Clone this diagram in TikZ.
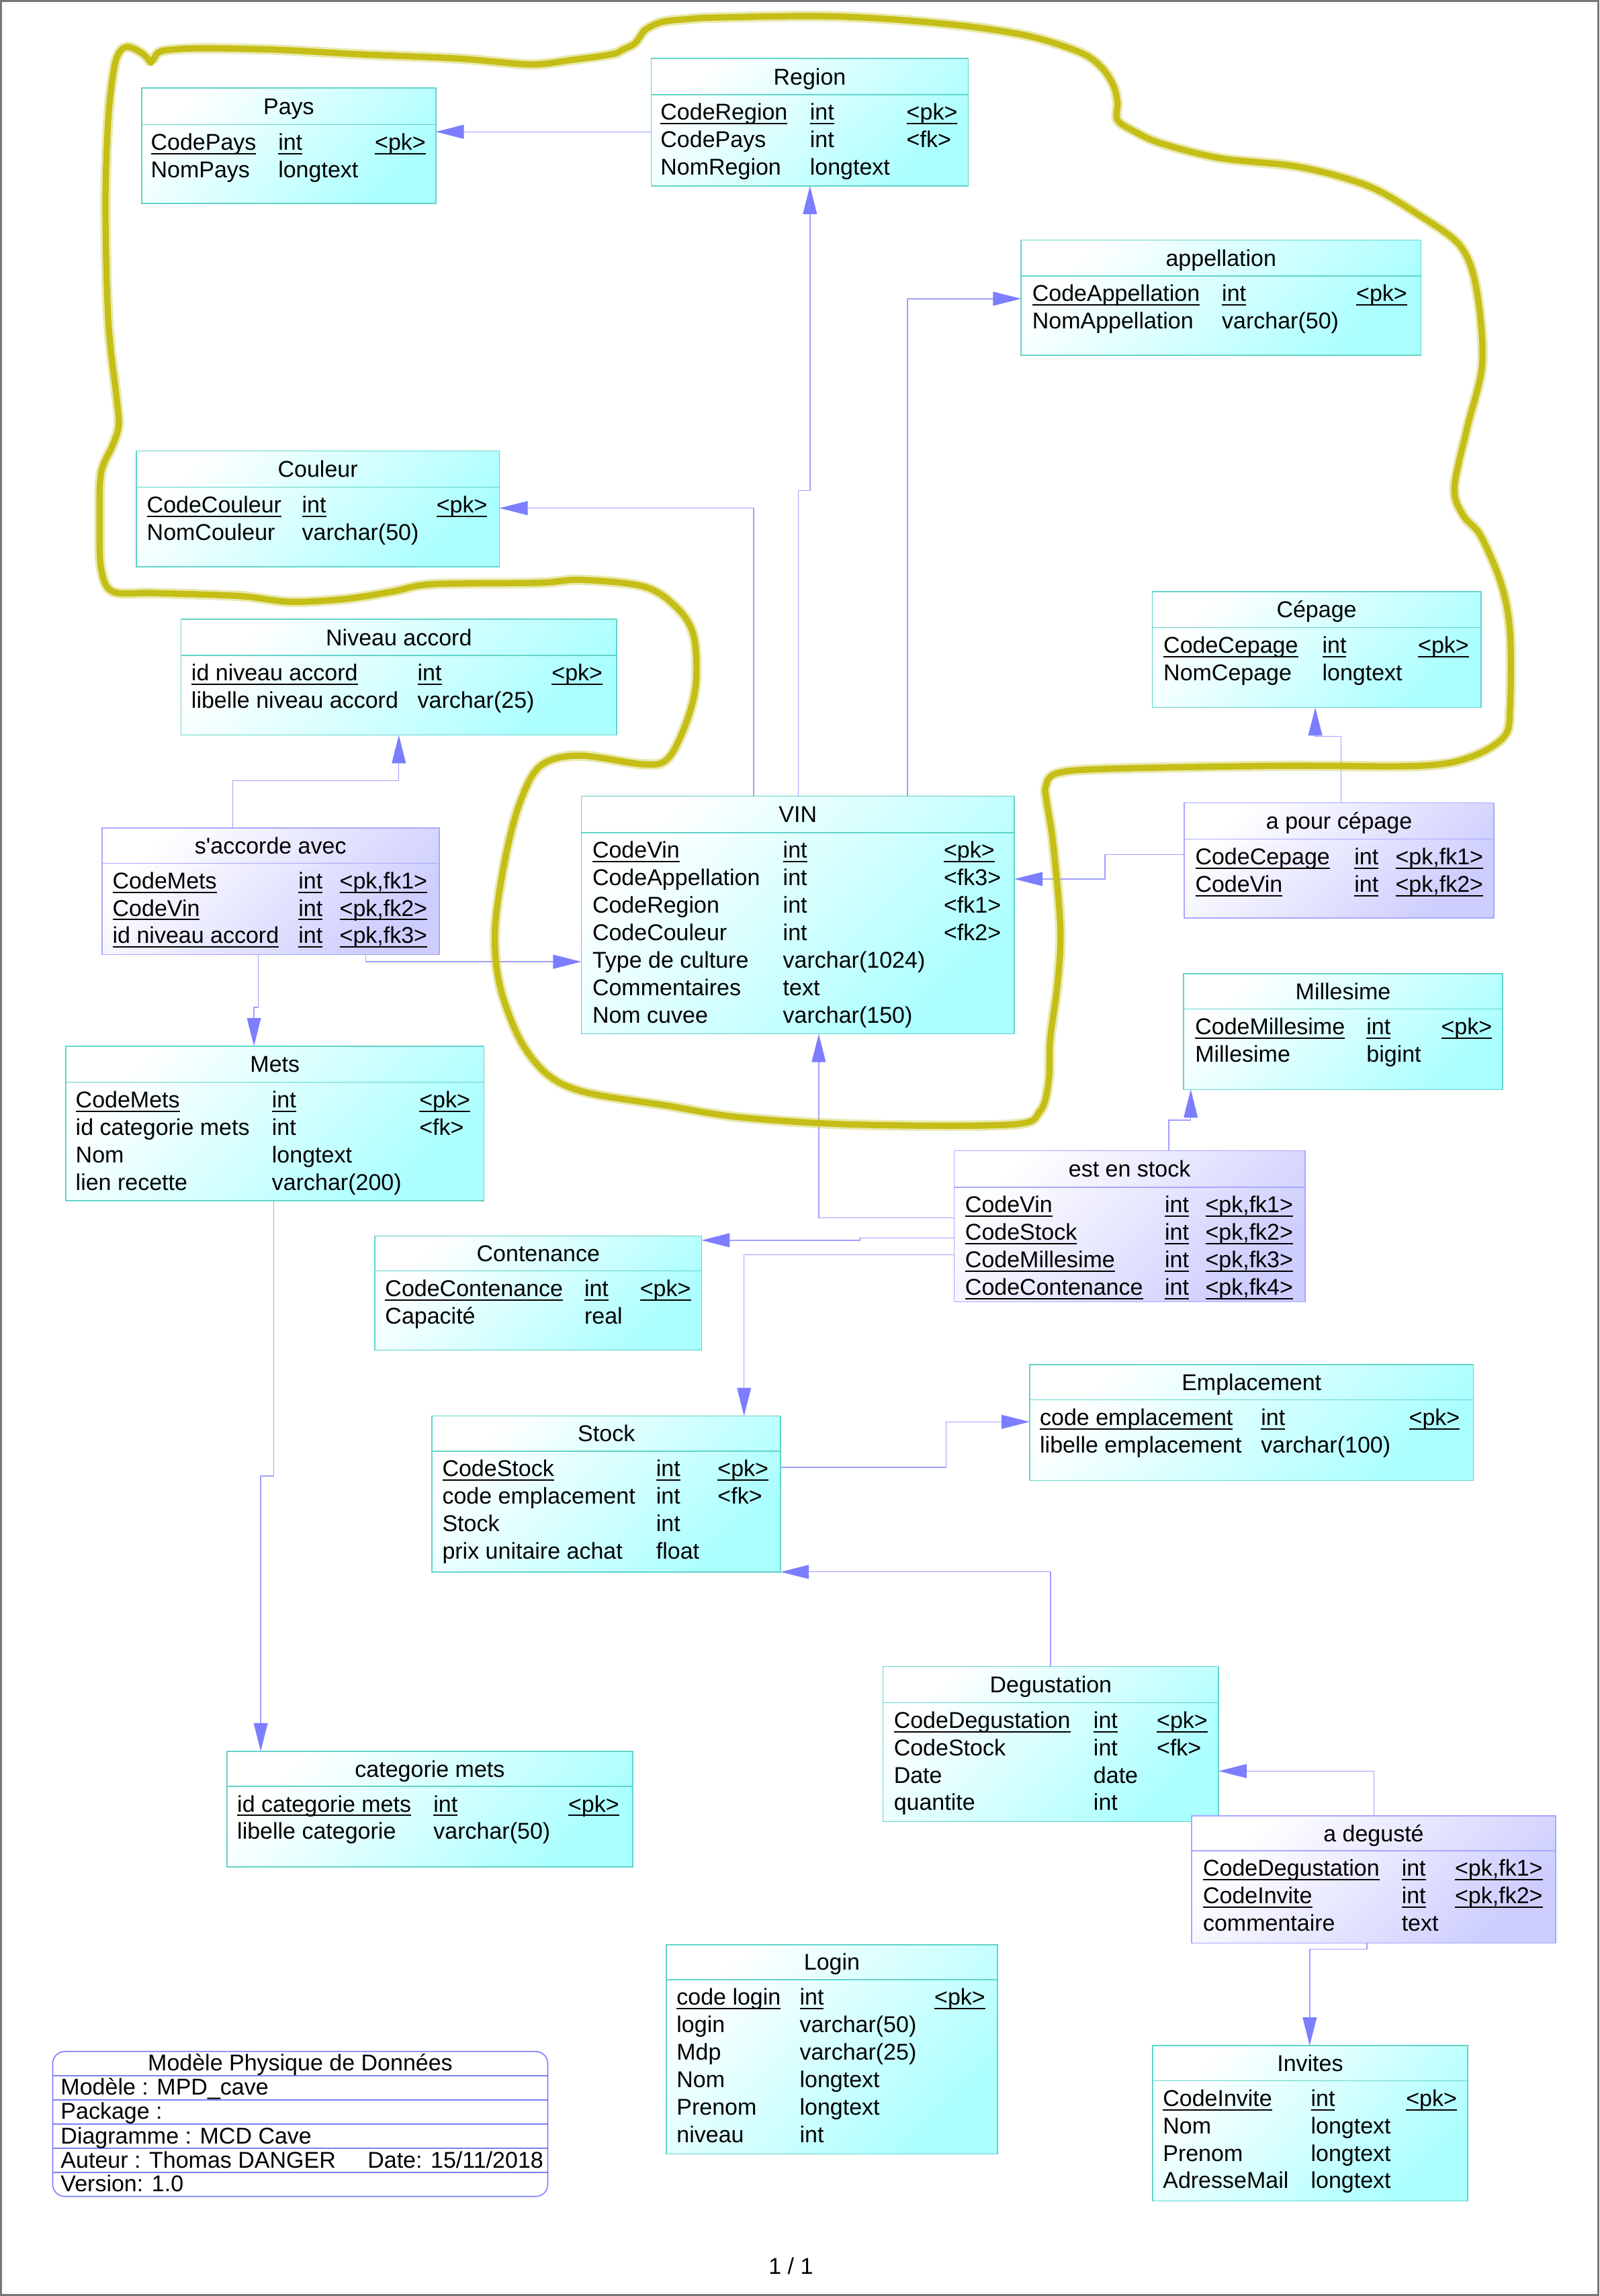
\documentclass[tikz,border=0pt]{standalone}
\usepackage{fontspec}
\setmainfont{Liberation Sans}[Ligatures=TeXOff]
\usetikzlibrary{arrows.meta,fit}

\definecolor{entb}{RGB}{98,212,202}
\definecolor{entc}{RGB}{170,255,255}
\definecolor{ascb}{RGB}{168,168,255}
\definecolor{ascc}{RGB}{205,205,255}
\definecolor{linec}{RGB}{160,160,255}
\definecolor{tipc}{RGB}{125,125,255}
\definecolor{framec}{RGB}{125,125,255}
\definecolor{penc}{RGB}{196,190,22}
\definecolor{pagec}{RGB}{120,120,120}

% underlined key field: rule at a fixed depth below the baseline
\newsavebox\keybox
\newcommand\keyfield[1]{\sbox\keybox{#1}\rlap{\rule[-1.6pt]{\wd\keybox}{0.5pt}}\usebox\keybox}

\tikzset{
  cell/.style={anchor=west, inner sep=0pt, outer sep=0pt,
    font=\fontsize{8.5pt}{10pt}\selectfont, text height=6.2pt, text depth=1.8pt},
  ent/.style={draw=entb, line width=0.4pt, top color=white, bottom color=entc,
    shading angle=45, inner sep=0pt, outer sep=0pt},
  asc/.style={draw=ascb, line width=0.4pt, top color=white, bottom color=ascc,
    shading angle=45, inner sep=0pt, outer sep=0pt},
  ent rule/.style={draw=entb, line width=0.4pt},
  asc rule/.style={draw=ascb, line width=0.4pt},
  fk/.style={draw=linec, line width=0.35pt,
    -{Triangle[length=10.5pt,width=5.2pt,color=tipc,fill=tipc]}},
  pen/.style={draw=penc, line width=2.3pt, line cap=round, line join=round},
}

% table: name, style, x1, y1, x2, y2, header rule y, title
\newcommand\dbtable[8]{%
  \node[#2, fit={(#3,#4)(#5,#6)}] (#1) {};
  \draw[#2 rule] (#3,#7) -- (#5,#7);
  \node[cell, anchor=center] (#1-title) at ({(#3+#5)/2},{(#4+#7)/2+1.5}) {#8};
  \gdef\curtab{#1}\gdef\curhl{#7}}
\newcommand\tcols[3]{\gdef\colA{#1}\gdef\colB{#2}\gdef\colC{#3}}
\newcommand\trow[4]{%
  \node[cell] (\curtab-#1a) at (\colA,{\curhl+13.3+18.75*(#1-1)}) {#2};
  \node[cell] (\curtab-#1b) at (\colB,{\curhl+13.3+18.75*(#1-1)}) {#3};
  \if\relax\detokenize{#4}\relax\else
    \node[cell] (\curtab-#1c) at (\colC,{\curhl+13.3+18.75*(#1-1)}) {#4};
  \fi}

\begin{document}
\begin{tikzpicture}[x=0.5451pt, y=-0.5451pt]
\useasboundingbox (0,0) rectangle (1092,1568);
\draw[pagec, line width=0.7pt] (0.6,0.6) rectangle (1091.4,1567.4);

% ---------- tables ----------
\dbtable{pays}{ent}{96.8}{60}{297.5}{139}{85}{Pays}
\tcols{103}{190}{256}
\trow{1}{\keyfield{CodePays}}{\keyfield{int}}{\keyfield{<pk>}}
\trow{2}{NomPays}{longtext}{}

\dbtable{region}{ent}{444.7}{40}{661}{127}{64.7}{Region}
\tcols{451}{553}{619}
\trow{1}{\keyfield{CodeRegion}}{\keyfield{int}}{\keyfield{<pk>}}
\trow{2}{CodePays}{int}{<fk>}
\trow{3}{NomRegion}{longtext}{}

\dbtable{appellation}{ent}{697.2}{164}{970.1}{242.6}{188.5}{appellation}
\tcols{704.8}{834.3}{926}
\trow{1}{\keyfield{CodeAppellation}}{\keyfield{int}}{\keyfield{<pk>}}
\trow{2}{NomAppellation}{varchar(50)}{}

\dbtable{couleur}{ent}{93}{308}{341}{387}{332.8}{Couleur}
\tcols{100.3}{206.2}{298}
\trow{1}{\keyfield{CodeCouleur}}{\keyfield{int}}{\keyfield{<pk>}}
\trow{2}{NomCouleur}{varchar(50)}{}

\dbtable{niveau}{ent}{123.6}{422.9}{421.1}{502}{447.6}{Niveau accord}
\tcols{130.7}{285.1}{376.7}
\trow{1}{\keyfield{id niveau accord}}{\keyfield{int}}{\keyfield{<pk>}}
\trow{2}{libelle niveau accord}{varchar(25)}{}

\dbtable{cepage}{ent}{786.7}{404}{1011.1}{483.1}{428.6}{Cépage}
\tcols{794.4}{902.8}{968.2}
\trow{1}{\keyfield{CodeCepage}}{\keyfield{int}}{\keyfield{<pk>}}
\trow{2}{NomCepage}{longtext}{}

\dbtable{saccorde}{asc}{69.6}{565.4}{299.8}{652}{589.5}{s'accorde avec}
\tcols{76.9}{203.8}{231.9}
\trow{1}{\keyfield{CodeMets}}{\keyfield{int}}{\keyfield{<pk,fk1>}}
\trow{2}{\keyfield{CodeVin}}{\keyfield{int}}{\keyfield{<pk,fk2>}}
\trow{3}{\keyfield{id niveau accord}}{\keyfield{int}}{\keyfield{<pk,fk3>}}

\dbtable{vin}{ent}{396.9}{543.7}{692.5}{706.1}{568.7}{VIN}
\tcols{404.5}{534.6}{644.4}
\trow{1}{\keyfield{CodeVin}}{\keyfield{int}}{\keyfield{<pk>}}
\trow{2}{CodeAppellation}{int}{<fk3>}
\trow{3}{CodeRegion}{int}{<fk1>}
\trow{4}{CodeCouleur}{int}{<fk2>}
\trow{5}{Type de culture}{varchar(1024)}{}
\trow{6}{Commentaires}{text}{}
\trow{7}{Nom cuvee}{varchar(150)}{}

\dbtable{apourcepage}{asc}{808.6}{548.2}{1020}{626.8}{573}{a pour cépage}
\tcols{816.1}{924.7}{952.8}
\trow{1}{\keyfield{CodeCepage}}{\keyfield{int}}{\keyfield{<pk,fk1>}}
\trow{2}{\keyfield{CodeVin}}{\keyfield{int}}{\keyfield{<pk,fk2>}}

\dbtable{millesime}{ent}{808}{665}{1026}{744}{689}{Millesime}
\tcols{816}{933}{984}
\trow{1}{\keyfield{CodeMillesime}}{\keyfield{int}}{\keyfield{<pk>}}
\trow{2}{Millesime}{bigint}{}

\dbtable{mets}{ent}{45}{714.4}{330.4}{820}{739.1}{Mets}
\tcols{51.7}{185.7}{286.3}
\trow{1}{\keyfield{CodeMets}}{\keyfield{int}}{\keyfield{<pk>}}
\trow{2}{id categorie mets}{int}{<fk>}
\trow{3}{Nom}{longtext}{}
\trow{4}{lien recette}{varchar(200)}{}

\dbtable{enstock}{asc}{651.4}{785.8}{891}{889}{810.7}{est en stock}
\tcols{659}{795.3}{823}
\trow{1}{\keyfield{CodeVin}}{\keyfield{int}}{\keyfield{<pk,fk1>}}
\trow{2}{\keyfield{CodeStock}}{\keyfield{int}}{\keyfield{<pk,fk2>}}
\trow{3}{\keyfield{CodeMillesime}}{\keyfield{int}}{\keyfield{<pk,fk3>}}
\trow{4}{\keyfield{CodeContenance}}{\keyfield{int}}{\keyfield{<pk,fk4>}}

\dbtable{contenance}{ent}{256}{844}{479}{922}{868}{Contenance}
\tcols{263}{399}{437}
\trow{1}{\keyfield{CodeContenance}}{\keyfield{int}}{\keyfield{<pk>}}
\trow{2}{Capacité}{real}{}

\dbtable{emplacement}{ent}{703}{932}{1006}{1011}{956}{Emplacement}
\tcols{710}{861}{962}
\trow{1}{\keyfield{code emplacement}}{\keyfield{int}}{\keyfield{<pk>}}
\trow{2}{libelle emplacement}{varchar(100)}{}

\dbtable{stock}{ent}{295}{967}{533}{1073.5}{991}{Stock}
\tcols{302}{448}{490}
\trow{1}{\keyfield{CodeStock}}{\keyfield{int}}{\keyfield{<pk>}}
\trow{2}{code emplacement}{int}{<fk>}
\trow{3}{Stock}{int}{}
\trow{4}{prix unitaire achat}{float}{}

\dbtable{degustation}{ent}{602.9}{1138}{832}{1243.9}{1162.8}{Degustation}
\tcols{610.3}{746.6}{789.8}
\trow{1}{\keyfield{CodeDegustation}}{\keyfield{int}}{\keyfield{<pk>}}
\trow{2}{CodeStock}{int}{<fk>}
\trow{3}{Date}{date}{}
\trow{4}{quantite}{int}{}

\dbtable{adeguste}{asc}{813.7}{1240}{1062}{1327}{1264}{a degusté}
\tcols{821.4}{957}{993.4}
\trow{1}{\keyfield{CodeDegustation}}{\keyfield{int}}{\keyfield{<pk,fk1>}}
\trow{2}{\keyfield{CodeInvite}}{\keyfield{int}}{\keyfield{<pk,fk2>}}
\trow{3}{commentaire}{text}{}

\dbtable{catmets}{ent}{155}{1196}{432}{1275}{1220}{categorie mets}
\tcols{162}{296}{388}
\trow{1}{\keyfield{id categorie mets}}{\keyfield{int}}{\keyfield{<pk>}}
\trow{2}{libelle categorie}{varchar(50)}{}

\dbtable{login}{ent}{455}{1328}{681}{1471}{1352}{Login}
\tcols{462}{546}{638}
\trow{1}{\keyfield{code login}}{\keyfield{int}}{\keyfield{<pk>}}
\trow{2}{login}{varchar(50)}{}
\trow{3}{Mdp}{varchar(25)}{}
\trow{4}{Nom}{longtext}{}
\trow{5}{Prenom}{longtext}{}
\trow{6}{niveau}{int}{}

\dbtable{invites}{ent}{787}{1397}{1002}{1503}{1421}{Invites}
\tcols{794}{895}{960}
\trow{1}{\keyfield{CodeInvite}}{\keyfield{int}}{\keyfield{<pk>}}
\trow{2}{Nom}{longtext}{}
\trow{3}{Prenom}{longtext}{}
\trow{4}{AdresseMail}{longtext}{}

% ---------- references ----------
\draw[fk] (region.west |- 0,90) -- (pays.east |- 0,90);
\draw[fk] (vin.north -| 545,0) -- (545,335) -- (553,335) -- (region.south -| 553,0);
\draw[fk] (vin.north -| 619.5,0) |- (appellation.west |- 0,204);
\draw[fk] (vin.north -| 514.5,0) |- (couleur.east |- 0,347);
\draw[fk] (apourcepage.north -| 915.5,0) |- (898,503) -- (cepage.south -| 898,0);
\draw[fk] (apourcepage.west |- 0,583.5) -| (754.5,600.3) -- (vin.east |- 0,600.3);
\draw[fk] (saccorde.north -| 159,0) |- (272.3,533) -- (niveau.south -| 272.3,0);
\draw[fk] (saccorde.south -| 249.7,0) |- (vin.west |- 0,656.8);
\draw[fk] (saccorde.south -| 176.3,0) -- (176.3,688) -- (173.4,688) -- (mets.north -| 173.4,0);
\draw[fk] (mets.south -| 187,0) -- (187,1008) -- (178,1008) -- (catmets.north -| 178,0);
\draw[fk] (enstock.west |- 0,831.8) -| (vin.south -| 559,0);
\draw[fk] (enstock.west |- 0,845.4) -- (587,845.4) -- (587,847) -- (contenance.east |- 0,847);
\draw[fk] (enstock.west |- 0,856.9) -| (stock.north -| 508,0);
\draw[fk] (enstock.north -| 798,0) |- (813,765) -- (millesime.south -| 813,0);
\draw[fk] (stock.east |- 0,1002) -| (646,971) -- (emplacement.west |- 0,971);
\draw[fk] (degustation.north -| 717.2,0) |- (stock.south east);
\draw[fk] (adeguste.north -| 938,0) |- (degustation.east |- 0,1209.5);
\draw[fk] (adeguste.south -| 933.3,0) -- (933.3,1331) -- (894.2,1331) -- (invites.north -| 894.2,0);

% ---------- title block ----------
\node[fit={(36,1401)(374,1500)}, draw=framec, line width=0.4pt, rounded corners=4.5pt,
  inner sep=0pt, outer sep=0pt, fill=white] (cartouche) {};
\foreach \yy in {1417.6,1434.1,1450.7,1467.2,1483.7}
  \draw[framec, line width=0.4pt] (cartouche.west |- 0,\yy) -- (cartouche.east |- 0,\yy);
\node[cell, anchor=center] (cart-title) at (205,1410.3) {Modèle Physique de Données};
\node[cell] (cart-model) at (41.5,1426.8) {Modèle : MPD\_cave};
\node[cell] (cart-pack) at (41.5,1443.3) {Package :};
\node[cell] (cart-diag) at (41.5,1459.9) {Diagramme : MCD Cave};
\node[cell] (cart-author) at (41.5,1476.4) {Auteur : Thomas DANGER};
\node[cell] (cart-date) at (251,1476.4) {Date: 15/11/2018};
\node[cell] (cart-version) at (41.5,1492.6) {Version: 1.0};

\node[cell, anchor=center] (pagenum) at (540,1549) {1 / 1};

% ---------- hand-drawn loop ----------
\draw[pen, preaction={draw=penc, draw opacity=0.35, line width=3.9pt}]
  plot[smooth, tension=0.55] coordinates {
  (104,42) (108,36) (116,34) (139,33) (190,34) (244,37) (313,40) (362,44)
  (390,41) (418,37) (425,34) (433,30) (437,25) (441,20) (452,15) (470,13)
  (488,12) (557,11) (606,13) (661,18) (704,25) (738,36) (752,46) (760,58)
  (763,70) (763,82) (775,90) (793,98) (833,108) (887,114) (934,127) (969,147)
  (997,168) (1008,197) (1012,248) (1002,291) (993,333) (999,352) (1011,366)
  (1025,399) (1031,432) (1031,483) (1027,503) (1004,517) (969,523) (875,523)
  (758,525) (722,528) (714,537) (715,550) (719,576) (724,634) (722,672)
  (717,710) (716,738) (710,759) (690,768) (584,768) (505,763) (455,755)
  (400,746) (374,734) (355,710) (341,672) (338,634) (345,586) (355,548)
  (369,523) (395,516) (440,522) (456,518) (468,495) (475,468) (474,436)
  (464,417) (441,401) (397,396) (368,398) (295,399) (268,404) (236,409)
  (198,411) (163,407) (105,405) (77,404) (69,388) (68,355) (69,323) (77,304)
  (81,291) (80,275) (74,220) (72,140) (74,80) (78,46) (82,35) (87,32)
  (93,34) (99,38) (103,43)};
\end{tikzpicture}
\end{document}
